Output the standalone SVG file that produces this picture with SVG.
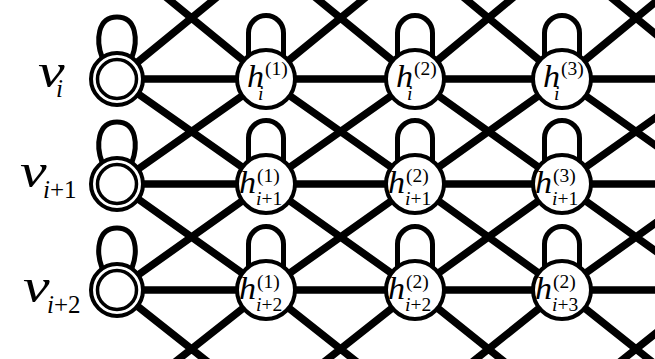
<svg xmlns="http://www.w3.org/2000/svg" width="655" height="359" viewBox="0 0 655 359">
<style>
.edge{stroke:#000;stroke-width:7.5;fill:none}
.loop{stroke:#000;stroke-width:5;fill:none}
.node{stroke:#000;stroke-width:4;fill:#fff}
.ring{stroke:#000;stroke-width:3.5;fill:none}
text{font-family:"Liberation Serif","Times New Roman",serif;fill:#000}
.it{font-style:italic}
.hb{font-size:31px;font-style:italic}
.hs{font-size:19.5px}
.vb{font-size:48px;font-style:italic}
.vs{font-size:25px}
</style>
<defs>
<path id="hloop" d="M-17.5,-20 L-17.5,-46 A17.5,17.5 0 0 1 17.5,-46 L17.5,-20"/>
<path id="vloop" d="M-15,-22 C-21,-38 -20,-62 0,-62 C20,-62 21,-38 15,-22"/>
</defs>
<rect width="655" height="359" fill="#fff"/>
<g id="connectors" class="edge">
<path d="M117,79 L660,79 M117,184 L660,184 M117,290 L660,290"/>
<path d="M117,79 L266,184 M117,184 L266,79 M266,79 L415,184 M266,184 L415,79 M415,79 L562,184 M415,184 L562,79 M562,79 L710,184 M562,184 L710,79"/>
<path d="M117,184 L266,290 M117,290 L266,184 M266,184 L415,290 M266,290 L415,184 M415,184 L562,290 M415,290 L562,184 M562,184 L710,290 M562,290 L710,184"/>
<path d="M117,79 L266,-43 M117,-43 L266,79 M266,79 L415,-43 M266,-43 L415,79 M415,79 L562,-43 M415,-43 L562,79 M562,79 L710,-43 M562,-43 L710,79"/>
<path d="M117,290 L266,408 M117,408 L266,290 M266,290 L415,408 M266,408 L415,290 M415,290 L562,408 M415,408 L562,290 M562,290 L710,408 M562,408 L710,290"/>
</g>
<g id="v1" transform="translate(117,79)">
<use href="#vloop" class="loop"/>
<circle r="26" class="node"/><circle r="19.5" class="ring"/>
<text class="vb" transform="translate(-79,8) scale(1.25,1)">v</text>
<text class="vs it" x="-61" y="18">i</text>
</g>
<g id="v2" transform="translate(117,184)">
<use href="#vloop" class="loop"/>
<circle r="26" class="node"/><circle r="19.5" class="ring"/>
<text class="vb" transform="translate(-97,3) scale(1.25,1)">v</text>
<text class="vs" x="-74" y="14"><tspan class="it">i</tspan>+1</text>
</g>
<g id="v3" transform="translate(117,290)">
<use href="#vloop" class="loop"/>
<circle r="26" class="node"/><circle r="19.5" class="ring"/>
<text class="vb" transform="translate(-94,12) scale(1.25,1)">v</text>
<text class="vs" x="-70" y="23"><tspan class="it">i</tspan>+2</text>
</g>
<g id="h1_1" transform="translate(266,79)">
<use href="#hloop" class="loop"/>
<circle r="29" class="node"/>
<text class="hb" transform="translate(-19,8) scale(1.1,1)">h</text>
<text class="hs" x="-1" y="-4">(1)</text>
<text class="hs it" x="-8" y="21">i</text>
</g>
<g id="h1_2" transform="translate(415,79)">
<use href="#hloop" class="loop"/>
<circle r="29" class="node"/>
<text class="hb" transform="translate(-19,8) scale(1.1,1)">h</text>
<text class="hs" x="-1" y="-4">(2)</text>
<text class="hs it" x="-8" y="21">i</text>
</g>
<g id="h1_3" transform="translate(562,79)">
<use href="#hloop" class="loop"/>
<circle r="29" class="node"/>
<text class="hb" transform="translate(-19,8) scale(1.1,1)">h</text>
<text class="hs" x="-1" y="-4">(3)</text>
<text class="hs it" x="-8" y="21">i</text>
</g>
<g id="h2_1" transform="translate(266,184)">
<use href="#hloop" class="loop"/>
<circle r="29" class="node"/>
<text class="hb" transform="translate(-27,9) scale(1.1,1)">h</text>
<text class="hs" x="-9" y="-2">(1)</text>
<text class="hs" x="-10" y="21"><tspan class="it">i</tspan>+1</text>
</g>
<g id="h2_2" transform="translate(415,184)">
<use href="#hloop" class="loop"/>
<circle r="29" class="node"/>
<text class="hb" transform="translate(-27,9) scale(1.1,1)">h</text>
<text class="hs" x="-9" y="-2">(2)</text>
<text class="hs" x="-10" y="21"><tspan class="it">i</tspan>+1</text>
</g>
<g id="h2_3" transform="translate(562,184)">
<use href="#hloop" class="loop"/>
<circle r="29" class="node"/>
<text class="hb" transform="translate(-27,9) scale(1.1,1)">h</text>
<text class="hs" x="-9" y="-2">(3)</text>
<text class="hs" x="-10" y="21"><tspan class="it">i</tspan>+1</text>
</g>
<g id="h3_1" transform="translate(266,290)">
<use href="#hloop" class="loop"/>
<circle r="29" class="node"/>
<text class="hb" transform="translate(-27,9) scale(1.1,1)">h</text>
<text class="hs" x="-9" y="-2">(1)</text>
<text class="hs" x="-10" y="21"><tspan class="it">i</tspan>+2</text>
</g>
<g id="h3_2" transform="translate(415,290)">
<use href="#hloop" class="loop"/>
<circle r="29" class="node"/>
<text class="hb" transform="translate(-27,9) scale(1.1,1)">h</text>
<text class="hs" x="-9" y="-2">(2)</text>
<text class="hs" x="-10" y="21"><tspan class="it">i</tspan>+2</text>
</g>
<g id="h3_3" transform="translate(562,290)">
<use href="#hloop" class="loop"/>
<circle r="29" class="node"/>
<text class="hb" transform="translate(-27,9) scale(1.1,1)">h</text>
<text class="hs" x="-9" y="-2">(2)</text>
<text class="hs" x="-10" y="21"><tspan class="it">i</tspan>+3</text>
</g>
</svg>
